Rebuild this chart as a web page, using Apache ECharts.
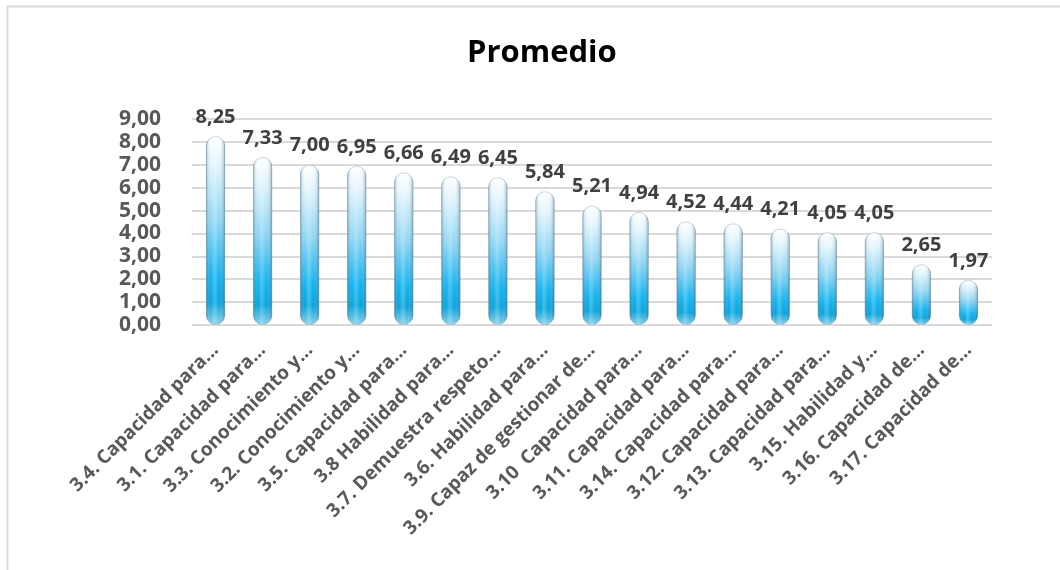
<!DOCTYPE html>
<html>
<head>
<meta charset="utf-8">
<script src="https://cdn.jsdelivr.net/npm/echarts@6/dist/echarts.min.js"></script>
<style>
html,body{margin:0;padding:0;background:#fff;}
#chart{width:1060px;height:570px;}
</style>
</head>
<body>
<div id="chart"></div>
<script>
const categories = [
  "3.4. Capacidad para...",
  "3.1. Capacidad para...",
  "3.3. Conocimiento y...",
  "3.2. Conocimiento y...",
  "3.5. Capacidad para...",
  "3.8 Habilidad para...",
  "3.7. Demuestra respeto...",
  "3.6. Habilidad para...",
  "3.9. Capaz de gestionar de...",
  "3.10  Capacidad para...",
  "3.11. Capacidad para...",
  "3.14. Capacidad para...",
  "3.12. Capacidad para...",
  "3.13. Capacidad para...",
  "3.15. Habilidad y...",
  "3.16. Capacidad de...",
  "3.17. Capacidad de..."
];
const promedio = [8.25, 7.33, 7.00, 6.95, 6.66, 6.49, 6.45, 5.84, 5.21, 4.94, 4.52, 4.44, 4.21, 4.05, 4.05, 2.65, 1.97];
const yTicks = [0, 1, 2, 3, 4, 5, 6, 7, 8, 9];

const fmt = v => v.toFixed(2).replace('.', ',');
const FONT = '"Open Sans", "Noto Sans", sans-serif';

const chart = echarts.init(document.getElementById('chart'), null, {renderer: 'canvas'});
chart.setOption({
  backgroundColor: '#ffffff',
  animation: false,
  title: {
    text: 'Promedio',
    left: 462,
    top: 33,
    textStyle: {fontFamily: FONT, fontSize: 31, fontWeight: 'bold', color: '#000000'}
  },
  graphic: [
    {type: 'line', shape: {x1: 7, y1: 6.5, x2: 1060, y2: 6.5}, style: {stroke: '#d9d9d9', lineWidth: 2}},
    {type: 'line', shape: {x1: 7.5, y1: 6, x2: 7.5, y2: 570}, style: {stroke: '#d9d9d9', lineWidth: 2}}
  ],
  grid: {left: 192, right: 68, top: 119, bottom: 245, containLabel: false},
  xAxis: {
    type: 'category',
    data: categories,
    axisLine: {show: false},
    axisTick: {show: false},
    axisLabel: {
      interval: 0,
      rotate: 45,
      margin: 22,
      fontFamily: FONT,
      fontSize: 19,
      fontWeight: 'bold',
      color: '#595959'
    }
  },
  yAxis: {
    type: 'value',
    min: yTicks[0],
    max: yTicks[yTicks.length - 1],
    interval: 1,
    axisLine: {show: false},
    axisTick: {show: false},
    splitLine: {lineStyle: {color: '#d9d9d9', width: 2}},
    axisLabel: {
      margin: 31,
      fontFamily: FONT,
      fontSize: 21,
      fontWeight: 'bold',
      color: '#595959',
      padding: [12, 0, 0, 0],
      formatter: v => fmt(v)
    }
  },
  series: [
    {
      type: 'bar',
      data: promedio,
      barWidth: 19,
      itemStyle: {
        borderRadius: 9.5,
        color: new echarts.graphic.LinearGradient(0, 0, 0, 1, [
          {offset: 0, color: '#ffffff'},
          {offset: 0.15, color: '#e3f5fc'},
          {offset: 0.45, color: '#8fd6f3'},
          {offset: 0.75, color: '#0fb2ee'},
          {offset: 0.88, color: '#05a3dc'},
          {offset: 0.95, color: '#52bde3'},
          {offset: 1, color: '#8fcde6'}
        ]),
        borderColor: 'rgba(120,160,180,0.6)',
        borderWidth: 0.8
      },
      label: {
        show: true,
        position: 'top',
        distance: 9,
        fontFamily: FONT,
        fontSize: 20,
        fontWeight: 'bold',
        color: '#404040',
        formatter: p => fmt(p.value)
      },
      z: 2
    },
    {
      type: 'bar',
      data: promedio,
      barWidth: 19,
      barGap: '-100%',
      silent: true,
      itemStyle: {
        borderRadius: 9.5,
        color: new echarts.graphic.LinearGradient(0, 0, 1, 0, [
          {offset: 0, color: 'rgba(40,80,110,0.35)'},
          {offset: 0.25, color: 'rgba(255,255,255,0.0)'},
          {offset: 0.45, color: 'rgba(255,255,255,0.25)'},
          {offset: 0.7, color: 'rgba(255,255,255,0.0)'},
          {offset: 1, color: 'rgba(40,80,110,0.4)'}
        ])
      },
      z: 3
    }
  ]
});
</script>
</body>
</html>
